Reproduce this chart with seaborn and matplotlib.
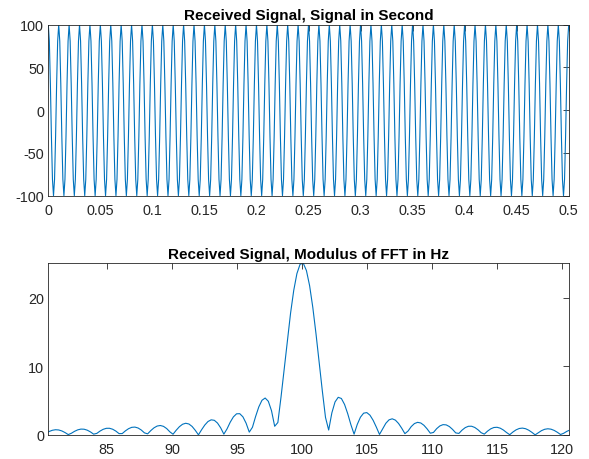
import numpy as np
import pandas as pd
import matplotlib
matplotlib.use("Agg")
import matplotlib.pyplot as plt
import seaborn as sns

# Received tone parameters
amplitude = 100.0          # peak value of the received signal
tone_hz = 100.0            # carrier frequency in Hz
duration_s = 0.5           # observation window in seconds
sample_rate = 1000.0       # samples per second
nfft = 4096                # FFT length (zero padded)

# Axis settings
time_ticks = [0, 0.05, 0.1, 0.15, 0.2, 0.25, 0.3, 0.35, 0.4, 0.45, 0.5]
time_tick_labels = ["0", "0.05", "0.1", "0.15", "0.2", "0.25", "0.3", "0.35", "0.4", "0.45", "0.5"]
amp_ticks = [-100, -50, 0, 50, 100]
freq_ticks = [85, 90, 95, 100, 105, 110, 115, 120]
mag_ticks = [0, 10, 20]
freq_window = (80.5, 120.5)
mag_top = 25

# Sampled signal
t = np.arange(0, duration_s + 1 / sample_rate / 2, 1 / sample_rate)
x = amplitude * np.cos(2 * np.pi * tone_hz * t)
sig_df = pd.DataFrame({"t": t, "x": x})

# Modulus of the FFT scaled by the sampling interval
spec = np.abs(np.fft.fft(x, nfft)) / sample_rate
freqs = np.arange(nfft) * sample_rate / nfft
keep = (freqs >= freq_window[0] - 1) & (freqs <= freq_window[1] + 1)
spec_df = pd.DataFrame({"f": freqs[keep], "mag": spec[keep]})

sns.set_theme(style="white")
plt.rcParams["font.family"] = ["Liberation Sans", "DejaVu Sans"]
plt.rcParams["axes.unicode_minus"] = False

line_color = "#0072BD"
axis_color = "#262626"

fig = plt.figure(figsize=(5.89, 4.60), dpi=100)
ax1 = fig.add_axes([48.3 / 589, 1 - 196.7 / 460, (568.7 - 48.3) / 589, (196.7 - 25.7) / 460])
ax2 = fig.add_axes([48.3 / 589, 1 - 436.0 / 460, (568.7 - 48.3) / 589, (436.0 - 264.3) / 460])

sns.lineplot(data=sig_df, x="t", y="x", ax=ax1, color=line_color, linewidth=0.8,
             estimator=None, sort=False)
sns.lineplot(data=spec_df, x="f", y="mag", ax=ax2, color=line_color, linewidth=0.8,
             estimator=None, sort=False)

ax1.set_xlim(0, duration_s)
ax1.set_ylim(-amplitude, amplitude)
ax1.set_xticks(time_ticks)
ax1.set_xticklabels(time_tick_labels)
ax1.set_yticks(amp_ticks)
ax1.set_title("Received Signal, Signal in Second", fontsize=11, fontweight="bold",
              color="black", pad=4)

ax2.set_xlim(*freq_window)
ax2.set_ylim(0, mag_top)
ax2.set_xticks(freq_ticks)
ax2.set_yticks(mag_ticks)
ax2.set_title("Received Signal, Modulus of FFT in Hz", fontsize=11, fontweight="bold",
              color="black", pad=4)

for ax in (ax1, ax2):
    ax.set_xlabel("")
    ax.set_ylabel("")
    ax.tick_params(direction="in", length=4, width=0.6, top=True, right=True,
                   labelsize=10.4, colors=axis_color)
    ax.tick_params(axis="x", pad=5)
    ax.tick_params(axis="y", pad=3)
    for s in ax.spines.values():
        s.set_visible(True)
        s.set_color(axis_color)
        s.set_linewidth(0.6)
    ax.grid(False)

fig.savefig("out.png", dpi=100, facecolor="white")
